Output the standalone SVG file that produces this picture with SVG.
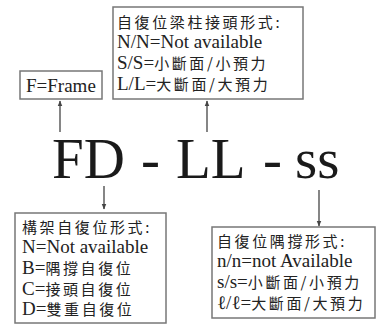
<svg xmlns="http://www.w3.org/2000/svg" width="383" height="325" viewBox="0 0 383 325">
<style>
.box{fill:#fff;stroke:#777;stroke-width:1.5}
.t{font-family:"Liberation Serif","Times New Roman",Times,serif;font-size:19px;fill:#222}
.c{font-family:"Noto Sans CJK TC","Noto Sans CJK SC",sans-serif;font-size:15px;letter-spacing:2.6px}
.big{font-family:"Liberation Serif","Times New Roman",Times,serif;font-size:57px;fill:#1a1a1a}
.ar{stroke:#444;stroke-width:1.3;fill:none}
</style>
<defs>
<marker id="ah" viewBox="0 0 10 10" refX="9" refY="5" markerWidth="6" markerHeight="6" markerUnits="userSpaceOnUse" orient="auto">
<path d="M0,1 L10,5 L0,9 z" fill="#444"/>
</marker>
</defs>
<rect width="383" height="325" fill="#fff"/>
<g id="code">
<text class="big" y="178"><tspan x="52">FD</tspan><tspan x="141">-</tspan><tspan x="176">LL</tspan><tspan x="263">-</tspan><tspan x="295">ss</tspan></text>
</g>
<g id="frame">
<rect class="box" x="20" y="71" width="82" height="28"/>
<text class="t" x="26" y="92">F=Frame</text>
</g>
<g id="joint">
<rect class="box" x="113" y="7" width="190" height="92"/>
<text class="t" x="117" y="28"><tspan class="c">自復位梁柱接頭形式:</tspan></text>
<text class="t" x="117" y="48">N/N=Not available</text>
<text class="t" x="117" y="69">S/S=<tspan class="c">小斷面/小預力</tspan></text>
<text class="t" x="117" y="90">L/L=<tspan class="c">大斷面/大預力</tspan></text>
</g>
<g id="frametype">
<rect class="box" x="15" y="213" width="151" height="110"/>
<text class="t" x="22" y="233"><tspan class="c">構架自復位形式:</tspan></text>
<text class="t" x="22" y="253">N=Not available</text>
<text class="t" x="22" y="274">B=<tspan class="c">隅撐自復位</tspan></text>
<text class="t" x="22" y="295">C=<tspan class="c">接頭自復位</tspan></text>
<text class="t" x="22" y="315">D=<tspan class="c">雙重自復位</tspan></text>
</g>
<g id="brace">
<rect class="box" x="212" y="227" width="163" height="91"/>
<text class="t" x="217" y="247"><tspan class="c">自復位隅撐形式:</tspan></text>
<text class="t" x="217" y="267">n/n=not Available</text>
<text class="t" x="217" y="288">s/s=<tspan class="c">小斷面/小預力</tspan></text>
<text class="t" x="217" y="309">ℓ/ℓ=<tspan class="c">大斷面/大預力</tspan></text>
</g>
<g id="connectors">
<line class="ar" x1="60" y1="132" x2="60" y2="101" marker-end="url(#ah)"/>
<line class="ar" x1="207" y1="132" x2="207" y2="101" marker-end="url(#ah)"/>
<line class="ar" x1="104" y1="186" x2="104" y2="209" marker-end="url(#ah)"/>
<line class="ar" x1="319" y1="190" x2="319" y2="226" marker-end="url(#ah)"/>
</g>
</svg>
